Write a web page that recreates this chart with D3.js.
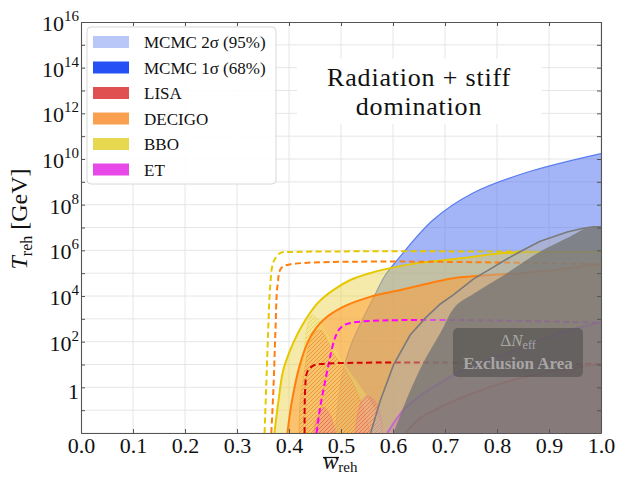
<!DOCTYPE html>
<html>
<head>
<meta charset="utf-8">
<script src="https://cdn.jsdelivr.net/npm/d3@7"></script>
<style>
  body { margin: 0; background: #fff; }
  svg text { font-family: "Liberation Serif", "Times New Roman", serif !important; }
</style>
</head>
<body>
<svg id="chart" width="619" height="477" font-family="Liberation Serif"></svg>
<script>
// ---- data: every boundary is a list of [w_reh, log10(T_reh / GeV)] ----
const xTicks = [0, 0.1, 0.2, 0.3, 0.4, 0.5, 0.6, 0.7, 0.8, 0.9, 1.0];
const yLabelExps = [0, 2, 4, 6, 8, 10, 12, 14, 16];
const yDecades = d3.range(-2, 17);

const legendLabels = ["MCMC 2\u03c3 (95%)", "MCMC 1\u03c3 (68%)", "LISA", "DECIGO", "BBO", "ET"];
const legendColors = ["#b9c7f8", "#2450f5", "#e05050", "#f8a050", "#e8d850", "#e848e8"];

// MCMC 2 sigma contour (left / upper edge)
const sigma2Edge = [[0.489,-2],[0.502,0.5],[0.52,1.9],[0.54,2.9],[0.562,3.9],[0.585,4.9],[0.608,5.57],
  [0.677,7.33],[0.754,8.51],[0.858,9.42],[1.0,10.24]];

// detector sensitivity (solid) edges
const bboSolid = [[0.372,-2],[0.38,-0.55],[0.389,0.76],[0.408,1.94],[0.428,2.82],[0.455,3.69],[0.485,4.26],
  [0.518,4.7],[0.556,5.0],[0.595,5.22],[0.647,5.44],[0.685,5.53],[0.749,5.7],[0.812,5.88],[0.884,5.92],[1.0,5.94]];
const decigoSolid = [[0.397,-2],[0.406,-0.55],[0.422,1.07],[0.441,2.2],[0.466,2.95],[0.504,3.52],[0.556,3.96],
  [0.614,4.26],[0.672,4.57],[0.716,4.78],[0.781,4.91],[0.845,5.0],[0.908,5.14],[1.0,5.4]];
const etSolid = [[0.589,-2],[0.62,-1.0],[0.653,-0.35],[0.691,0.19],[0.724,0.63],[0.781,1.2],[0.845,1.72],[0.908,2.29],[1.0,2.86]];
const lisaSolid = [[0.624,-2],[0.653,-1.34],[0.701,-0.77],[0.749,-0.29],[0.845,0.41],[0.922,0.76],[1.0,1.02]];

// detector dashed edges
const bboDash = [[0.353,-2],[0.356,-0.11],[0.36,2.51],[0.364,4.48],[0.37,5.48],[0.383,5.88],[0.412,5.93],[1.0,5.93]];
const decigoDash = [[0.366,-2],[0.37,-0.11],[0.374,2.51],[0.378,4.48],[0.385,5.22],[0.403,5.39],[1.0,5.39]];
const etDash = [[0.453,-2],[0.46,-0.86],[0.47,0.32],[0.479,1.33],[0.489,2.2],[0.499,2.6],[0.518,2.82],[1.0,2.83]];
const lisaDash = [[0.43,-2],[0.431,-0.11],[0.435,0.67],[0.445,0.93],[0.46,1.02],[1.0,1.02]];

// hatched patches
const bboHatch = [[0.422,-2],[0.422,-0.41],[0.428,1.34],[0.435,2.65],[0.444,3.16],[0.466,2.65],[0.505,1.06],[0.537,0.03],[0.569,-1.13],[0.581,-2]];
const decigoHatch = [[0.419,-2],[0.422,-0.56],[0.431,0.9],[0.444,2.21],[0.46,2.51],[0.485,1.5],[0.512,0.63],[0.537,-0.56],[0.556,-2]];
const lisaHatchA = [[0.447,-2],[0.453,-1.43],[0.466,-0.86],[0.479,-1.21],[0.489,-2]];
const lisaHatchB = [[0.527,-2],[0.533,-1.08],[0.541,-0.55],[0.552,-0.38],[0.566,-0.64],[0.576,-1.21],[0.581,-2]];

// Delta N_eff exclusion: outer (jagged) line and inner darker area
const neffLine = [[0.557,-2],[0.576,-0.55],[0.601,0.98],[0.633,2.29],[0.662,3.03],[0.691,3.65],[0.716,4.05],[0.755,4.75],
  [0.781,5.1],[0.819,5.62],[0.845,5.95],[0.883,6.4],[0.935,6.8],[0.966,6.97],[0.985,7.03],[1.0,7.03]];
const neffCore = [[0.601,-2],[0.628,-0.42],[0.658,1.07],[0.691,2.38],[0.72,3.55],[0.755,4.1],[0.819,5.0],[0.883,5.95],[0.94,6.6],[0.975,7.0],[1.0,7.02]];

// ---- scales ----
const svg = d3.select("#chart");
const m = {l: 81, r: 601, t: 22, b: 433};
const x = d3.scaleLinear().domain([0, 1]).range([m.l, m.r]);
const y = d3.scaleLog().domain([1e-2, 1e16]).range([m.b, m.t]);

const smooth = d3.line().x(d => x(d[0])).y(d => y(10 ** d[1])).curve(d3.curveCatmullRom.alpha(0.5));
const jagged = d3.line().x(d => x(d[0])).y(d => y(10 ** d[1]));
// region from an edge to the bottom-right corner
const toCorner = (gen, pts) => gen(pts) + `L${x(1)},${y(1e-2)}Z`;

const defs = svg.append("defs");
defs.append("clipPath").attr("id", "plot")
  .append("rect").attr("x", m.l).attr("y", m.t).attr("width", m.r - m.l).attr("height", m.b - m.t);

function hatch(id, color) {
  const p = defs.append("pattern").attr("id", id).attr("patternUnits", "userSpaceOnUse")
    .attr("width", 4).attr("height", 4);
  p.append("path").attr("d", "M-1,1 l2,-2 M0,4 l4,-4 M3,5 l2,-2")
    .attr("stroke", color).attr("stroke-width", 0.7);
}
hatch("hY", "#e2c830");
hatch("hO", "#e87a20");
hatch("hR", "#e06060");

// ---- grid ----
const grid = svg.append("g").attr("clip-path", "url(#plot)");
grid.selectAll(".gx").data(xTicks).join("line")
  .attr("x1", d => x(d)).attr("x2", d => x(d)).attr("y1", m.t).attr("y2", m.b)
  .attr("stroke", "#e3e3e3").attr("stroke-width", 0.9);
grid.selectAll(".gy").data(yDecades).join("line")
  .attr("x1", m.l).attr("x2", m.r).attr("y1", d => y(10 ** d)).attr("y2", d => y(10 ** d))
  .attr("stroke", "#e3e3e3").attr("stroke-width", 0.9);

// title box
svg.append("rect").attr("x", 297).attr("y", 59).attr("width", 245).attr("height", 65).attr("fill", "#fff");
svg.append("text").attr("x", 419).attr("y", 86).attr("text-anchor", "middle").attr("font-size", 26)
  .attr("letter-spacing", 0.8).attr("fill", "#111").text("Radiation + stiff");
svg.append("text").attr("x", 419).attr("y", 115).attr("text-anchor", "middle").attr("font-size", 26)
  .attr("letter-spacing", 0.8).attr("fill", "#111").text("domination");

const plot = svg.append("g").attr("clip-path", "url(#plot)");

// MCMC 2 sigma
plot.append("path").attr("d", toCorner(smooth, sigma2Edge)).attr("fill", "#4a6cf0").attr("fill-opacity", 0.5);
plot.append("path").attr("d", smooth(sigma2Edge)).attr("fill", "none").attr("stroke", "#5a7cf0").attr("stroke-width", 1.2);

// detector fills
plot.append("path").attr("d", toCorner(smooth, bboSolid)).attr("fill", "#e8d040").attr("fill-opacity", 0.45);
plot.append("path").attr("d", toCorner(smooth, decigoSolid)).attr("fill", "#ff9a30").attr("fill-opacity", 0.5);
plot.append("path").attr("d", toCorner(smooth, etSolid)).attr("fill", "#e040e0").attr("fill-opacity", 0.3);
plot.append("path").attr("d", toCorner(smooth, lisaSolid)).attr("fill", "#e04040").attr("fill-opacity", 0.3);

// hatched patches
[[bboHatch, "#f3e488", "hY", "#e6cf50"], [decigoHatch, "#f8b060", "hO", "#ee9030"],
 [lisaHatchA, "#f08080", "hR", "#e87070"], [lisaHatchB, "#f09090", "hR", "#e87070"]].forEach(([pts, fill, pat, edge]) => {
  const d = smooth(pts) + "Z";
  plot.append("path").attr("d", d).attr("fill", fill).attr("fill-opacity", 0.35);
  plot.append("path").attr("d", d).attr("fill", `url(#${pat})`).attr("fill-opacity", 0.8)
    .attr("stroke", edge).attr("stroke-width", 0.6).attr("stroke-opacity", 0.6);
});

// detector lines
const lines = [
  [bboSolid, "#e6c800", null], [decigoSolid, "#ff7f0e", null], [etSolid, "#d030e0", null], [lisaSolid, "#e03020", null],
  [bboDash, "#e6c800", "6,3.5"], [decigoDash, "#ff7f0e", "6,3.5"], [etDash, "#ff00ff", "6,3.5"], [lisaDash, "#d40000", "6,3.5"]
];
lines.forEach(([pts, c, dash]) => {
  plot.append("path").attr("d", smooth(pts)).attr("fill", "none").attr("stroke", c)
    .attr("stroke-width", 2).attr("stroke-dasharray", dash);
});

// Delta N_eff exclusion overlays
plot.append("path").attr("d", toCorner(jagged, neffLine)).attr("fill", "#afafaf").attr("fill-opacity", 0.46);
plot.append("path").attr("d", toCorner(smooth, neffCore)).attr("fill", "#747474").attr("fill-opacity", 0.78);
plot.append("path").attr("d", jagged(neffLine)).attr("fill", "none").attr("stroke", "#7a7a7a").attr("stroke-width", 1.6);

// exclusion label
svg.append("rect").attr("x", 453).attr("y", 328).attr("width", 130).attr("height", 49).attr("rx", 5)
  .attr("fill", "#4a4a4a").attr("fill-opacity", 0.55);
const neffText = svg.append("text").attr("x", 518).attr("y", 346).attr("text-anchor", "middle")
  .attr("font-size", 17).attr("fill", "#a6a6a6");
neffText.append("tspan").text("\u0394");
neffText.append("tspan").attr("font-style", "italic").text("N");
neffText.append("tspan").attr("font-size", 12).attr("dy", 3).text("eff");
svg.append("text").attr("x", 518).attr("y", 369).attr("text-anchor", "middle").attr("font-size", 17)
  .attr("font-weight", "bold").attr("fill", "#a6a6a6").text("Exclusion Area");

// ---- axes (inward ticks on all sides) ----
const frame = svg.append("g");
const axStyle = g => {
  g.attr("font-family", "Liberation Serif");
  g.select(".domain").attr("stroke", "#555").attr("stroke-width", 1.1);
  g.selectAll(".tick line").attr("stroke", "#555");
};
frame.append("g").attr("transform", `translate(0,${m.b})`)
  .call(d3.axisBottom(x).tickValues(xTicks).tickFormat(d3.format(".1f")).tickSizeInner(-4).tickSizeOuter(0).tickPadding(4))
  .call(axStyle)
  .call(g => g.selectAll("text").attr("font-size", 22).attr("fill", "#111"));
frame.append("g").attr("transform", `translate(0,${m.t})`)
  .call(d3.axisTop(x).tickValues(xTicks).tickFormat("").tickSizeInner(-4).tickSizeOuter(0)).call(axStyle);
frame.append("g").attr("transform", `translate(${m.l},0)`)
  .call(d3.axisLeft(y).tickValues(yDecades.map(e => 10 ** e)).tickFormat("").tickSizeInner(-4).tickSizeOuter(0)).call(axStyle);
frame.append("g").attr("transform", `translate(${m.r},0)`)
  .call(d3.axisRight(y).tickValues(yDecades.map(e => 10 ** e)).tickFormat("").tickSizeInner(-4).tickSizeOuter(0)).call(axStyle);

// y tick labels with superscripts
const yl = svg.append("g").selectAll("text").data(yLabelExps).join("text")
  .attr("x", 79).attr("y", d => y(10 ** d) + (d === 0 ? 12 : 9))
  .attr("text-anchor", "end").attr("font-size", 22).attr("fill", "#111");
yl.each(function(d) {
  const t = d3.select(this);
  if (d === 0) { t.text("1"); return; }
  t.append("tspan").text("10");
  t.append("tspan").attr("font-size", 15).attr("dy", -10).text(d);
});

// axis titles
const yt = svg.append("text").attr("transform", "translate(27,219) rotate(-90)").attr("text-anchor", "middle")
  .attr("font-size", 24).attr("fill", "#111");
yt.append("tspan").attr("font-style", "italic").text("T");
yt.append("tspan").attr("font-size", 16).attr("dy", 5).text("reh");
yt.append("tspan").attr("dy", -5).text(" [GeV]");

const xt = svg.append("text").attr("x", 323).attr("y", 469).attr("font-size", 23).attr("fill", "#111");
xt.append("tspan").attr("font-style", "italic").text("w");
xt.append("tspan").attr("font-size", 15).attr("dy", 3).text("reh");
svg.append("line").attr("x1", 323).attr("x2", 339).attr("y1", 457.5).attr("y2", 457.5).attr("stroke", "#111").attr("stroke-width", 1.2);

// ---- legend ----
const lg = svg.append("g");
lg.append("rect").attr("x", 87).attr("y", 27).attr("width", 189).attr("height", 157).attr("rx", 4)
  .attr("fill", "#fff").attr("fill-opacity", 0.88).attr("stroke", "#d8d8d8");
const rows = lg.selectAll("g").data(legendLabels).join("g")
  .attr("transform", (d, i) => `translate(0,${42 + i * 25.5})`);
rows.append("rect").attr("x", 93).attr("y", -6).attr("width", 36).attr("height", 12)
  .attr("fill", (d, i) => legendColors[i]);
rows.append("text").attr("x", 144).attr("y", 6).attr("font-size", 17).attr("fill", "#111").text(d => d);
</script>
</body>
</html>
